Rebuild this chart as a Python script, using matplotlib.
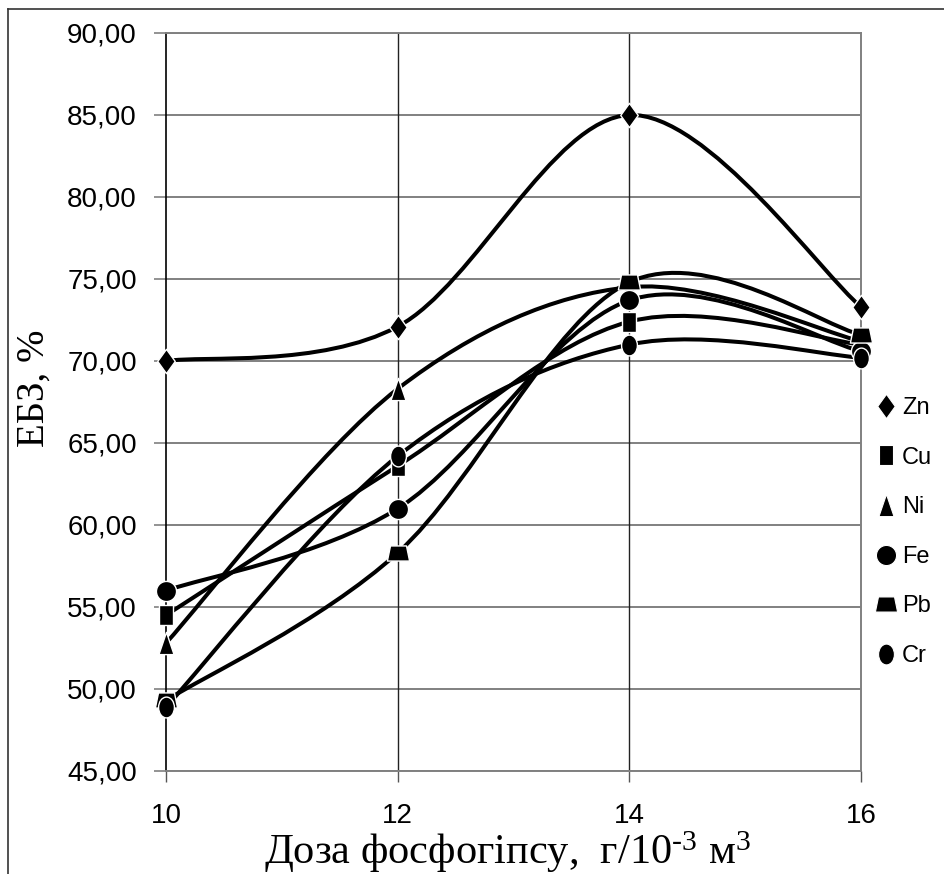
import numpy as np
import matplotlib
matplotlib.use("Agg")
import matplotlib.pyplot as plt
from matplotlib.path import Path
from matplotlib.patches import PathPatch
from matplotlib.lines import Line2D
from matplotlib.ticker import FuncFormatter

plt.rcParams['font.family'] = ['Liberation Sans', 'DejaVu Sans']
plt.rcParams['mathtext.fontset'] = 'custom'
plt.rcParams['mathtext.rm'] = 'Liberation Serif'
plt.rcParams['mathtext.it'] = 'Liberation Serif:italic'

# ---- data ----
doses = [10, 12, 14, 16]
zn = [70.0, 72.1, 85.0, 73.3]
cu = [54.5, 63.6, 72.4, 71.0]
ni = [52.8, 68.3, 74.5, 71.2]
fe = [56.0, 61.0, 73.7, 70.6]
pb = [49.3, 58.3, 74.8, 71.6]
cr = [48.9, 64.2, 71.0, 70.2]
series_names = ["Zn", "Cu", "Ni", "Fe", "Pb", "Cr"]
series_values = [zn, cu, ni, fe, pb, cr]
y_ticks = [45, 50, 55, 60, 65, 70, 75, 80, 85, 90]
x_label = "Доза фосфогіпсу,  г/10$^{\\mathrm{\u20103}}$ м$^{\\mathrm{3}}$"
y_label = "ЕБЗ, %"

# ---- marker shapes ----
diamond = Path([(0, 1), (0.72, 0), (0, -1), (-0.72, 0), (0, 1)],
               [1, 2, 2, 2, 79])
rect = Path([(-0.65, -1), (0.65, -1), (0.65, 1), (-0.65, 1), (-0.65, -1)],
            [1, 2, 2, 2, 79])
tri = Path([(0, 1), (0.68, -1), (-0.68, -1), (0, 1)], [1, 2, 2, 79])
trap = Path([(-0.72, 0.68), (0.72, 0.68), (1, -0.68), (-1, -0.68), (-0.72, 0.68)],
            [1, 2, 2, 2, 79])
uc = Path.unit_circle()
ellipse = Path(uc.vertices * np.array([0.76, 1.0]), uc.codes)
markers = [diamond, rect, tri, 'o', trap, ellipse]
msizes = [17.5, 15, 16, 14.5, 16, 15]

W, H = 945, 874
fig = plt.figure(figsize=(W / 100, H / 100), dpi=100)
L, R, T, B = 166, 861, 33, 771
ax = fig.add_axes([L / W, 1 - B / H, (R - L) / W, (B - T) / H])

ax.set_xlim(10, 16)
ax.set_ylim(45, 90)
ax.set_xticks(doses)
ax.set_yticks(y_ticks)
ax.yaxis.set_major_formatter(FuncFormatter(lambda v, p: f"{v:.2f}".replace('.', ',')))
ax.tick_params(axis='y', direction='out', length=9, width=1.2, color='#808080',
               labelsize=20, pad=12)
ax.tick_params(axis='x', direction='out', length=8, width=1.0, color='#555555',
               labelsize=20, pad=15)

for y in y_ticks:
    ax.axhline(y, color='#808080', lw=1.4, zorder=1)
for x in doses[1:-1]:
    ax.axvline(x, color='#222222', lw=1.0, zorder=1)
ax.spines['left'].set_color('black')
ax.spines['left'].set_linewidth(1.2)
for s in ['top', 'right', 'bottom']:
    ax.spines[s].set_color('#808080')
    ax.spines[s].set_linewidth(1.4)


def smooth_path(xs, ys):
    P = np.column_stack([xs, ys]).astype(float)
    n = len(P)
    verts = [P[0]]
    codes = [Path.MOVETO]
    for i in range(n - 1):
        p_prev = P[i - 1] if i > 0 else P[i]
        p_next2 = P[i + 2] if i + 2 < n else P[i + 1]
        c1 = P[i] + (P[i + 1] - p_prev) / 6.0
        c2 = P[i + 1] - (p_next2 - P[i]) / 6.0
        verts += [c1, c2, P[i + 1]]
        codes += [Path.CURVE4] * 3
    return Path(verts, codes)


for vals in series_values:
    patch = PathPatch(smooth_path(doses, vals), fill=False, edgecolor='black',
                      lw=2.9, capstyle='round', joinstyle='round', zorder=3)
    ax.add_patch(patch)

for vals, m, ms in zip(series_values, markers, msizes):
    ax.plot(doses, vals, ls='none', marker=m, ms=ms, mfc='black', mec='white',
            mew=1.0, clip_on=False, zorder=5)

handles = [Line2D([], [], ls='none', marker=m, ms=ms, mfc='black',
                  mec='white', mew=0.8) for m, ms in zip(markers, msizes)]
ax.legend(handles, series_names, loc='upper left',
          bbox_to_anchor=(875 / W, 1 - 397 / H), bbox_transform=fig.transFigure,
          frameon=False, fontsize=17, handlelength=0.9, handletextpad=0.25,
          labelspacing=1.17, borderpad=0, borderaxespad=0)

fig.text(507 / W, 1 - 864 / H, x_label, ha='center', va='baseline',
         fontsize=30.5, family='Liberation Serif')
fig.text(34 / W, 1 - 388 / H, y_label, ha='center', va='center', rotation=90,
         fontsize=28, family='Liberation Serif')

# outer frame (top and left edges)
fig.add_artist(Line2D([8 / W, 1.0], [1 - 9 / H, 1 - 9 / H], color='#333333',
                      lw=1.2, transform=fig.transFigure))
fig.add_artist(Line2D([8 / W, 8 / W], [1 - 9 / H, 0.0], color='#333333',
                      lw=1.2, transform=fig.transFigure))

fig.savefig("out.png", dpi=100)
